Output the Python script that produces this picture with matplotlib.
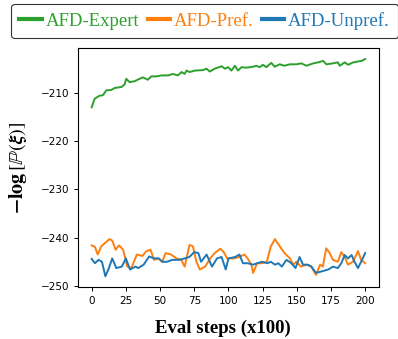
#!/usr/bin/env python3
"""Trajectory log-probability over eval steps for the three AFD variants."""
import matplotlib
matplotlib.use("Agg")
import matplotlib.pyplot as plt

plt.rcParams["mathtext.fontset"] = "stix"

# values
expert_steps = [0, 2.2, 5.8, 8.2, 10.7, 14.4, 16.8, 21.7, 24, 25.3, 27.7, 31.4, 35,
                37.5, 41, 43.6, 47.3, 51, 55.8, 59.4, 63, 65.7, 68, 69.3, 71.7,
                75.4, 81.4, 83.9, 86.3, 90, 95, 97.4, 99.8, 102.2, 104.7, 107,
                109.5, 113, 118, 120.4, 122.8, 125.3, 127.7, 131.3, 133.8, 137.5,
                141, 144.8, 149.6, 153.3, 157, 162, 165.5, 169.2, 171.6, 176.4,
                180, 181.4, 185, 187.5, 191.2, 194.9, 197.3, 200]
expert_vals = [-213.0, -211.2, -210.6, -210.5, -209.5, -209.4, -209.0, -208.8,
               -208.3, -207.1, -207.8, -207.6, -207.1, -206.8, -207.3, -206.6,
               -206.6, -206.4, -206.4, -206.1, -206.4, -205.7, -206.1, -205.4,
               -205.7, -205.4, -205.3, -205.0, -205.6, -205.0, -204.5, -205.0,
               -204.7, -205.4, -204.4, -205.4, -204.7, -204.8, -204.6, -204.4,
               -204.7, -204.2, -204.7, -203.8, -204.6, -204.1, -204.4, -204.1,
               -204.1, -203.9, -204.4, -203.9, -203.7, -203.4, -204.1, -203.9,
               -203.7, -204.4, -203.7, -204.2, -203.7, -203.5, -203.4, -203.0]

pref_steps = [0, 2.4, 4.4, 7, 13, 15, 17.5, 20, 23, 26, 29, 33, 37, 40, 43, 45.6,
              49, 51.6, 54, 58, 62, 65.5, 68, 71.5, 74, 76.6, 79, 83, 86.6, 90,
              94, 96.6, 99, 104, 108, 111.7, 114, 116.8, 118, 121, 124.6, 128,
              131, 134, 137.5, 141, 145, 147.2, 149.6, 153, 157, 160.6, 164, 167,
              169, 171.5, 174, 176.4, 180, 182.5, 185, 187.4, 191, 194.7, 197,
              200]
pref_vals = [-241.6, -241.9, -243.5, -241.8, -240.3, -240.6, -242.5, -241.6,
             -242.5, -246.0, -246.3, -243.5, -243.8, -242.8, -242.5, -244.6,
             -244.3, -245.0, -243.2, -243.5, -244.3, -244.6, -246.0, -241.5,
             -241.8, -245.0, -246.6, -246.0, -244.3, -243.2, -242.3, -243.0,
             -244.3, -244.3, -244.0, -243.5, -244.3, -245.6, -247.3, -245.3,
             -245.3, -245.0, -241.8, -240.3, -241.8, -243.2, -244.3, -245.6,
             -245.0, -246.0, -245.6, -246.0, -247.7, -245.6, -246.0, -242.2,
             -243.2, -244.6, -245.0, -243.0, -244.0, -245.6, -245.0, -242.8,
             -244.6, -245.3]

unpref_steps = [0, 2.4, 5, 7.5, 10, 12.6, 15, 18, 22, 25, 28, 32, 34, 38, 42,
                45.6, 49, 51.6, 55, 59, 64, 68, 71.5, 75, 78, 80, 84, 88, 91.6,
                95, 98, 100, 105, 108, 110.6, 114, 118, 121, 124.6, 128.5, 131,
                134, 136.5, 139, 142.4, 146, 149, 152, 154.5, 158, 160.6, 164,
                168, 173, 176.4, 180, 182.5, 185, 187.4, 190, 192.2, 194.7, 197,
                200]
unpref_vals = [-244.4, -245.3, -244.6, -245.0, -248.0, -246.3, -244.3, -246.3,
               -246.0, -244.3, -246.6, -246.0, -246.3, -245.6, -243.9, -244.3,
               -244.3, -245.0, -245.0, -244.6, -244.6, -244.3, -244.0, -243.0,
               -243.2, -245.0, -243.5, -246.0, -244.3, -244.0, -246.6, -244.3,
               -244.0, -243.5, -245.3, -245.3, -245.6, -245.3, -245.0, -245.3,
               -245.0, -245.6, -245.3, -246.0, -244.6, -245.3, -246.3, -244.0,
               -245.6, -245.6, -246.0, -247.3, -247.0, -246.6, -246.0, -246.3,
               -245.3, -243.6, -244.3, -243.6, -245.0, -246.3, -245.0, -243.2]

series = [
    ("AFD-Expert", expert_steps, expert_vals, "#2ca02c"),
    ("AFD-Pref.", pref_steps, pref_vals, "#ff7f0e"),
    ("AFD-Unpref.", unpref_steps, unpref_vals, "#1f77b4"),
]

fig = plt.figure(figsize=(3.98, 3.39), dpi=100)
ax = fig.add_axes([0.196, 0.153, 0.756, 0.705])
for name, steps, vals, color in series:
    ax.plot(steps, vals, color=color, lw=1.4, label=name)

ax.set_xticks([0, 25, 50, 75, 100, 125, 150, 175, 200])
ax.set_yticks([-250, -240, -230, -220, -210])
ax.tick_params(labelsize=7.5, length=3, width=0.7)
for spine in ax.spines.values():
    spine.set_linewidth(0.8)

ax.set_xlabel("Eval steps (x100)", family="Liberation Serif", fontweight="bold",
              fontsize=13.5)
ax.xaxis.set_label_coords(0.482, -0.135)
ax.set_ylabel(r"$\mathbf{-log}\,[\mathbb{P}(\boldsymbol{\xi})]$", fontsize=14.5,
              labelpad=8)

handles, labels = ax.get_legend_handles_labels()
legend = fig.legend(handles, labels, loc="center", ncol=3,
                    bbox_to_anchor=(0.514, 0.938), frameon=True, fancybox=True,
                    edgecolor="black", handlelength=1.2, handletextpad=0.2,
                    columnspacing=0.45, borderpad=0.45,
                    prop={"family": "Liberation Serif", "size": 13.5})
legend.get_frame().set_linewidth(0.8)
for line in legend.get_lines():
    line.set_linewidth(3)
for text, (_name, _s, _v, color) in zip(legend.get_texts(), series):
    text.set_color(color)

fig.savefig("out.png", dpi=100)
